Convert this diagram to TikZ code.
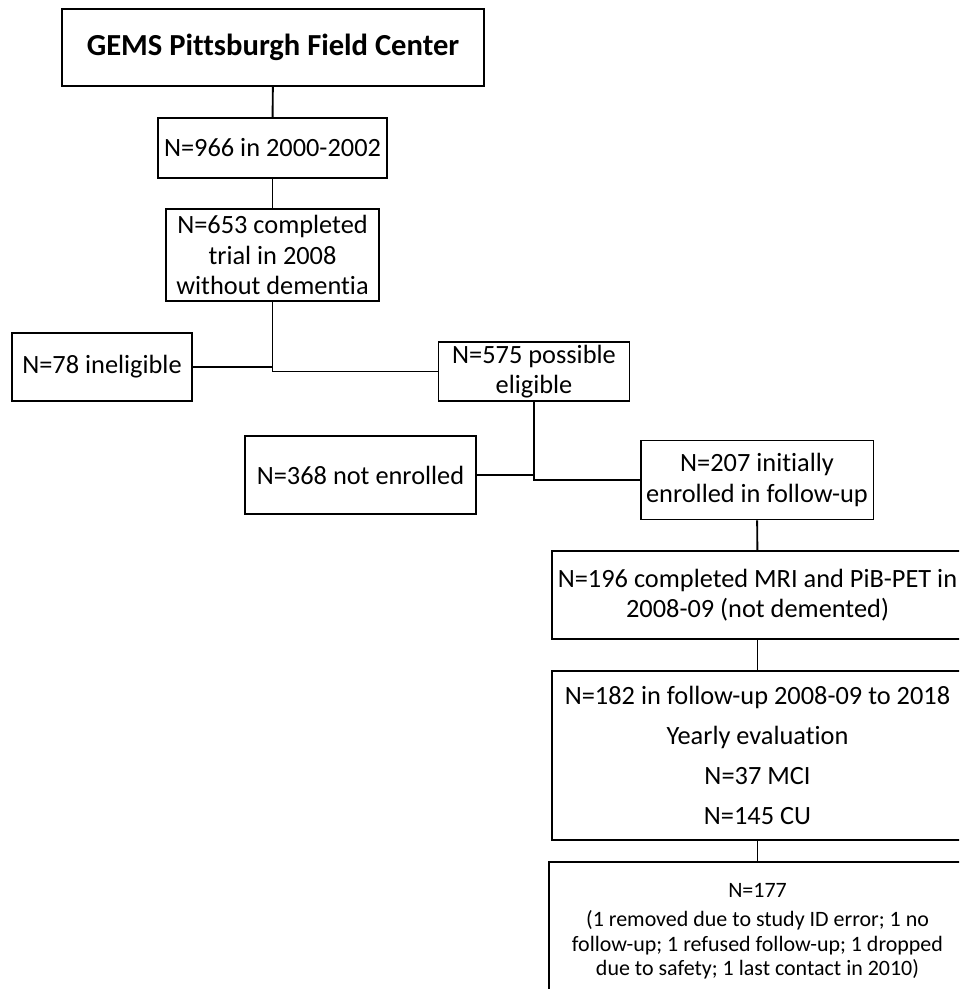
\documentclass[tikz,border=0pt]{standalone}
\usepackage{fontspec}
\setmainfont{Carlito}[Ligatures=NoCommon]
\tikzset{flowbox/.style={draw, line width=1.1pt, align=center, inner sep=0pt,
  font=\fontsize{15}{17.2}\selectfont},
  link/.style={line width=1.1pt}}

\begin{document}
\begin{tikzpicture}[x=0.02cm,y=-0.02cm]
	\useasboundingbox (0,0) rectangle (959,989);
	\clip (0,0) rectangle (959,989);
	\node[flowbox, minimum width=8.44cm, minimum height=1.54cm, font=\fontsize{17.4}{20}\selectfont\bfseries] (gems) at (273,47.5) {GEMS Pittsburgh Field Center};
	\node[flowbox, minimum width=4.58cm, minimum height=1.2cm] (n966) at (272.5,148) {N=966 in 2000-2002};
	\node[flowbox, minimum width=4.26cm, minimum height=1.84cm] (n653) at (272.5,255) {N=653 completed\\trial in 2008\\without dementia};
	\node[flowbox, minimum width=3.6cm, minimum height=1.36cm] (n78) at (102,367) {N=78 ineligible};
	\node[flowbox, minimum width=3.82cm, minimum height=1.18cm] (n575) at (534,371.5) {N=575 possible\\eligible};
	\node[flowbox, minimum width=4.62cm, minimum height=1.56cm] (n368) at (360.5,475) {N=368 not enrolled};
	\node[flowbox, minimum width=4.66cm, minimum height=1.58cm] (n207) at (757,480) {N=207 initially\\enrolled in follow-up};
	\node[flowbox, minimum width=8.22cm, minimum height=1.76cm] (n196) at (757.5,595) {N=196 completed MRI and PiB-PET in\\2008-09 (not demented)};
	\node[flowbox, minimum width=8.22cm, minimum height=3.38cm] (n182) at (757.5,755.5) {N=182 in follow-up 2008-09 to 2018\\[5.5pt]Yearly evaluation\\[5.5pt]N=37 MCI\\[5.5pt]N=145 CU};
	\node[flowbox, minimum width=8.34cm, minimum height=2.76cm, font=\fontsize{12.5}{13.9}\selectfont] (n177) at (757.5,931) {N=177\\[2.9pt](1 removed due to study ID error; 1 no\\follow-up; 1 refused follow-up; 1 dropped\\due to safety; 1 last contact in 2010)};
	\draw[link] (gems) -- (n966);
	\draw[link] (n966) -- (n653);
	\draw[link] (n653.south) |- (n575.west);
	\draw[link] (n78.east) -- (n78.east -| n653.south);
	\draw[link] (n575.south) |- (n207.west);
	\draw[link] (n368.east) -- (n368.east -| n575.south);
	\draw[link] (n207) -- (n196);
	\draw[link] (n196) -- (n182);
	\draw[link] (n182) -- (n177);
\end{tikzpicture}
\end{document}
